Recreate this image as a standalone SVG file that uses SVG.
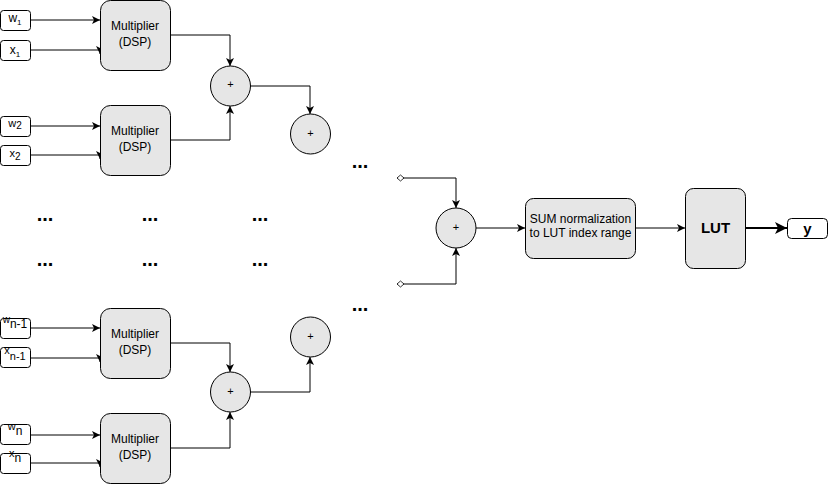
<svg xmlns="http://www.w3.org/2000/svg" width="829" height="487" viewBox="0 0 829 487">
<style>
text{font-family:"Liberation Sans",Arial,Helvetica,sans-serif;fill:#000}
.mul{fill:#e6e6e6;stroke:#000;stroke-width:1}
.inp{fill:#fff;stroke:#000;stroke-width:1}
.sum{fill:#e6e6e6;stroke:#000;stroke-width:1}
.c{fill:none;stroke:#000;stroke-width:1;marker-end:url(#arr)}
.d{marker-start:url(#dia)}
.lbl{font-size:12px;text-anchor:middle}
.in{text-anchor:middle}
.dots{font-size:20px;font-weight:bold;text-anchor:middle}
.plus{font-size:11px;text-anchor:middle}
</style>
<defs>
<marker id="arr" markerUnits="userSpaceOnUse" markerWidth="10" markerHeight="10" refX="8" refY="4" orient="auto">
<path d="M0,0 L8,4 L0,8 L2,4 z" fill="#000"/>
</marker>
<marker id="arrB" markerUnits="userSpaceOnUse" markerWidth="14" markerHeight="14" refX="12" refY="6" orient="auto">
<path d="M0,0 L12,6 L0,12 L3,6 z" fill="#000"/>
</marker>
<marker id="dia" markerUnits="userSpaceOnUse" markerWidth="10" markerHeight="10" refX="1" refY="4" orient="auto">
<path d="M1,4 L4.5,1 L8,4 L4.5,7 z" fill="#fff" stroke="#000" stroke-width="0.8"/>
</marker>
</defs>

<g id="connectors">
<path class="c" d="M30,20 H100"/>
<path class="c" d="M30,50 H100 V54"/>
<path class="c" d="M30,126 H100"/>
<path class="c" d="M30,155 H100 V159"/>
<path class="c" d="M30,328 H100"/>
<path class="c" d="M30,358 H100 V362"/>
<path class="c" d="M30,435 H100"/>
<path class="c" d="M30,463 H100 V467"/>
<path class="c" d="M170,35 H230 V66"/>
<path class="c" d="M170,140 H230 V106"/>
<path class="c" d="M250,86 H310 V114"/>
<path class="c" d="M170,343 H230 V372"/>
<path class="c" d="M170,448 H230 V412"/>
<path class="c" d="M250,392 H310 V357"/>
<path class="c d" d="M397,178 H456 V208"/>
<path class="c d" d="M397,284 H456 V248"/>
<path class="c" d="M476,228 H525"/>
<path class="c" d="M635,228 H685"/>
<path d="M745,228 H787" fill="none" stroke="#000" stroke-width="2" marker-end="url(#arrB)"/>
</g>

<g id="in-w1"><rect class="inp" x="0.5" y="10.5" width="30" height="20" rx="3"/><text class="in" x="15" y="22"><tspan font-size="12">w</tspan><tspan font-size="8" dy="3">1</tspan></text></g>
<g id="in-x1"><rect class="inp" x="0.5" y="40.5" width="30" height="20" rx="3"/><text class="in" x="15" y="54"><tspan font-size="12">x</tspan><tspan font-size="8" dy="3">1</tspan></text></g>
<g id="in-w2"><rect class="inp" x="0.5" y="116.5" width="30" height="20" rx="3"/><text class="in" x="15" y="127"><tspan font-size="11">w</tspan><tspan font-size="10" dy="2">2</tspan></text></g>
<g id="in-x2"><rect class="inp" x="0.5" y="145.5" width="30" height="20" rx="3"/><text class="in" x="15" y="157"><tspan font-size="11">x</tspan><tspan font-size="10" dy="3">2</tspan></text></g>
<g id="in-wn1"><rect class="inp" x="0.5" y="318.5" width="30" height="20" rx="3"/><text class="in" x="15" y="323"><tspan font-size="10">w</tspan><tspan font-size="12" dy="5">n-1</tspan></text></g>
<g id="in-xn1"><rect class="inp" x="0.5" y="347.5" width="30" height="20" rx="3"/><text class="in" x="15" y="354"><tspan font-size="11">x</tspan><tspan font-size="11" dy="6">n-1</tspan></text></g>
<g id="in-wn"><rect class="inp" x="0.5" y="424.5" width="30" height="20" rx="3"/><text class="in" x="15" y="430"><tspan font-size="11">w</tspan><tspan font-size="12" dy="5">n</tspan></text></g>
<g id="in-xn"><rect class="inp" x="0.5" y="453.5" width="30" height="20" rx="3"/><text class="in" x="15" y="457"><tspan font-size="11">x</tspan><tspan font-size="12" dy="5">n</tspan></text></g>

<g id="mul1"><rect class="mul" x="100.5" y="0.5" width="70" height="70" rx="10"/><text class="lbl" x="135" y="30">Multiplier</text><text class="lbl" x="135" y="46">(DSP)</text></g>
<g id="mul2"><rect class="mul" x="100.5" y="105.5" width="70" height="70" rx="10"/><text class="lbl" x="135" y="135">Multiplier</text><text class="lbl" x="135" y="151">(DSP)</text></g>
<g id="muln1"><rect class="mul" x="100.5" y="308.5" width="70" height="70" rx="10"/><text class="lbl" x="135" y="338">Multiplier</text><text class="lbl" x="135" y="354">(DSP)</text></g>
<g id="muln"><rect class="mul" x="100.5" y="413.5" width="70" height="70" rx="10"/><text class="lbl" x="135" y="443">Multiplier</text><text class="lbl" x="135" y="459">(DSP)</text></g>

<g id="add1"><circle class="sum" cx="230.5" cy="86" r="20"/><text class="plus" x="230.5" y="88">+</text></g>
<g id="add2"><circle class="sum" cx="310.5" cy="134" r="20"/><text class="plus" x="310.5" y="137">+</text></g>
<g id="add3"><circle class="sum" cx="230.5" cy="392" r="20"/><text class="plus" x="230.5" y="395">+</text></g>
<g id="add4"><circle class="sum" cx="310.5" cy="337" r="20"/><text class="plus" x="310.5" y="340">+</text></g>
<g id="add5"><circle class="sum" cx="456" cy="228" r="20"/><text class="plus" x="456" y="231">+</text></g>

<g id="norm"><rect class="sum" x="525.5" y="198.5" width="110" height="60" rx="8"/><text class="lbl" x="580.5" y="223">SUM normalization</text><text class="lbl" x="580.5" y="237">to LUT index range</text></g>
<g id="lut"><rect class="sum" x="685.5" y="188.5" width="60" height="80" rx="8"/><text x="715.5" y="233" font-size="15" font-weight="bold" text-anchor="middle">LUT</text></g>
<g id="out-y"><rect class="inp" x="787.5" y="218.5" width="40" height="20" rx="4"/><text x="807.5" y="234" font-size="15" font-weight="bold" text-anchor="middle">y</text></g>

<g id="dots">
<text class="dots" x="45" y="221">...</text>
<text class="dots" x="150" y="221">...</text>
<text class="dots" x="260" y="221">...</text>
<text class="dots" x="45" y="266">...</text>
<text class="dots" x="150" y="266">...</text>
<text class="dots" x="260" y="266">...</text>
<text class="dots" x="360" y="168">...</text>
<text class="dots" x="360" y="311">...</text>
</g>
</svg>
